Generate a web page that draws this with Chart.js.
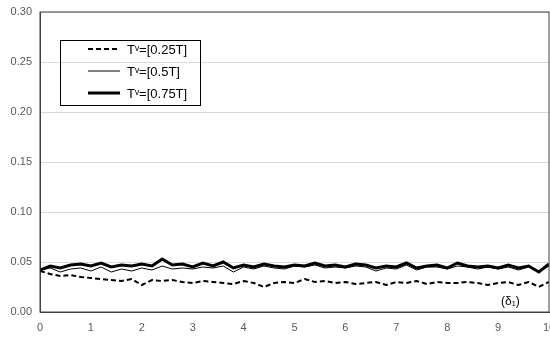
<!DOCTYPE html>
<html>
<head>
<meta charset="utf-8">
<script src="https://cdn.jsdelivr.net/npm/chart.js@4"></script>
<style>
  html, body { margin: 0; padding: 0; background: #fff; }
  #wrap { width: 550px; height: 354px; }
</style>
</head>
<body>
<div id="wrap"><canvas id="chart1"></canvas></div>
<script>
// x positions (delta_1), step 0.2
var xs = [];
for (var i = 0; i <= 50; i++) xs.push(+(i * 0.2).toFixed(1));

var labels = ['T\u1D5B=[0.25T]', 'T\u1D5B=[0.5T]', 'T\u1D5B=[0.75T]'];

var s25 = [0.041,0.038,0.036,0.037,0.035,0.034,0.033,0.032,0.031,0.033,0.027,0.032,0.031,0.032,0.030,0.029,0.031,0.030,0.029,0.028,0.031,0.029,0.025,0.029,0.030,0.029,0.033,0.030,0.031,0.029,0.030,0.028,0.029,0.030,0.027,0.030,0.029,0.031,0.028,0.030,0.029,0.029,0.030,0.029,0.027,0.029,0.030,0.027,0.030,0.025,0.030];
var s50 = [0.042,0.044,0.040,0.043,0.044,0.041,0.045,0.040,0.043,0.041,0.044,0.042,0.046,0.043,0.044,0.043,0.045,0.044,0.046,0.040,0.045,0.043,0.046,0.044,0.043,0.046,0.045,0.047,0.044,0.045,0.044,0.046,0.045,0.041,0.044,0.043,0.047,0.042,0.045,0.045,0.043,0.046,0.045,0.043,0.045,0.043,0.045,0.042,0.045,0.041,0.046];
var s75 = [0.042,0.046,0.044,0.047,0.048,0.046,0.049,0.045,0.047,0.046,0.048,0.046,0.053,0.047,0.048,0.045,0.049,0.046,0.050,0.044,0.047,0.045,0.048,0.046,0.045,0.047,0.046,0.049,0.046,0.047,0.045,0.048,0.047,0.044,0.046,0.045,0.049,0.044,0.046,0.047,0.044,0.049,0.046,0.045,0.046,0.044,0.047,0.044,0.046,0.040,0.048];

function pts(ys) {
    return ys.map(function (y, i) { return { x: xs[i], y: y }; });
}

// legend box + axis note drawn on the canvas
var boxLegend = {
    id: 'boxLegend',
    afterDraw: function (chart) {
        var c = chart.ctx;
        c.save();
        c.strokeStyle = '#000';
        c.lineWidth = 1;
        c.strokeRect(60.5, 40.5, 140, 65);
        var rows = [49, 71, 93];
        chart.data.datasets.forEach(function (ds, i) {
            c.beginPath();
            c.lineWidth = ds.borderWidth;
            c.setLineDash(ds.borderDash || []);
            c.moveTo(88, rows[i]);
            c.lineTo(120, rows[i]);
            c.stroke();
            c.setLineDash([]);
            c.fillStyle = '#000';
            c.font = '13px "Liberation Sans", Arial, sans-serif';
            c.textBaseline = 'middle';
            c.fillText(ds.label, 127, rows[i] + 1);
        });
        c.font = '12px "Liberation Sans", Arial, sans-serif';
        c.textBaseline = 'middle';
        c.fillText('(\u03B4\u2081)', 501, 302);
        c.restore();
    }
};

var tickFont = { family: '"Liberation Sans", Arial', size: 11 };

var ctx1 = document.getElementById('chart1').getContext('2d');
var myChart1 = new Chart(ctx1, {
    type: 'line',
    data: {
        datasets: [{
            label: labels[0],
            data: pts(s25),
            borderColor: '#000',
            borderWidth: 2,
            borderDash: [5, 3]
        }, {
            label: labels[1],
            data: pts(s50),
            borderColor: '#000',
            borderWidth: 1
        }, {
            label: labels[2],
            data: pts(s75),
            borderColor: '#000',
            borderWidth: 3
        }]
    },
    options: {
        responsive: true,
        maintainAspectRatio: false,
        animation: false,
        elements: { point: { radius: 0 }, line: { tension: 0 } },
        layout: { padding: { top: 12, right: 1, left: 0, bottom: 0 } },
        plugins: { legend: { display: false }, tooltip: { enabled: false } },
        scales: {
            x: {
                type: 'linear',
                min: 0, max: 10,
                ticks: { stepSize: 1, color: '#595959', font: tickFont, maxRotation: 0, padding: 9 },
                grid: { display: false, drawTicks: false },
                border: { color: '#404040', width: 1 },
                afterFit: function (s) { s.height = 42; s.paddingRight = 0; s.paddingLeft = 0; }
            },
            y: {
                min: 0, max: 0.30,
                ticks: { stepSize: 0.05, color: '#595959', font: tickFont, padding: 8,
                    callback: function (v) { return v.toFixed(2); } },
                grid: { color: '#d9d9d9', drawTicks: false },
                border: { color: '#404040', width: 1 },
                afterFit: function (s) { s.width = 40; s.paddingTop = 0; s.paddingBottom = 0; }
            }
        }
    },
    plugins: [boxLegend, {
        id: 'frame',
        afterDatasetsDraw: function (chart) {
            var a = chart.chartArea, c = chart.ctx;
            c.save();
            c.strokeStyle = '#404040';
            c.lineWidth = 1;
            c.strokeRect(a.left, a.top, a.right - a.left, a.bottom - a.top);
            c.restore();
        }
    }]
});
</script>
</body>
</html>
